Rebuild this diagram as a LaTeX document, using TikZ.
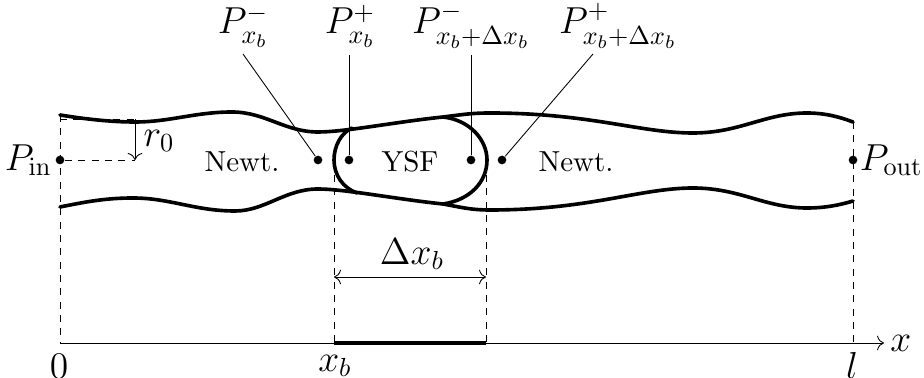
\documentclass[tikz,border=0pt]{standalone}
\usepackage{amsmath}
\usetikzlibrary{arrows.meta,positioning}
\tikzset{
  wall/.style={
    line width=1.25pt, line cap=round
  },
  guide/.style={
    dash pattern=on 2.4pt off 2.2pt, line width=0.3pt
  },
  leader/.style={
    line width=0.3pt
  },
  dimarrow/.style={
    {To[length=2.4pt]}-{To[length=2.4pt]}, line width=0.3pt
  },
  probe/.style={
    circle, fill=black, inner sep=0pt, minimum size=3pt
  },
  mathlabel/.style={
    font=\Large, scale=0.9, inner sep=0pt
  },
  zonelabel/.style={
    font=\normalsize, inner sep=0pt
  },
}
\begin{document}
\begin{tikzpicture}[x=0.345pt, y=-0.345pt]
  \useasboundingbox (0,0) rectangle (924,378);

  % Corners
  \coordinate (tl) at (60,115);
  \coordinate (tr) at (853,122);
  \coordinate (o) at (60,343);
  \coordinate (xa) at (334,343);
  \coordinate (xc) at (486,343);
  \coordinate (xl) at (853,343);
  \coordinate (xe) at (884,343);
  \coordinate (ga) at (334,175);
  \coordinate (gc) at (486,175);

  % Probes
  \node[probe] (pin) at (60,160) {};
  \node[probe] (pam) at (318,160) {};
  \node[probe] (pap) at (349,160) {};
  \node[probe] (pcm) at (471,160) {};
  \node[probe] (pcp) at (502,160) {};
  \node[probe] (pout) at (853,160) {};

  % Walls
  \draw[wall] (tl) .. controls (85,119) and (110,122) .. (135,122)
    .. controls (170,122) and (195,112) .. (232,112)
    .. controls (265,112) and (285,132) .. (318,132)
    .. controls (345,132) and (395,122) .. (443,117)
    .. controls (460,115) and (470,113) .. (490,113)
    .. controls (590,113) and (640,133) .. (693,133)
    .. controls (740,133) and (765,113) .. (807,113)
    .. controls (825,113) and (840,117) .. (tr);
  \draw[wall] (60,207) .. controls (85,202) and (105,198) .. (133,198)
    .. controls (170,198) and (195,211) .. (235,211)
    .. controls (265,211) and (285,189) .. (318,189)
    .. controls (345,189) and (395,199) .. (443,204)
    .. controls (460,207) and (470,210) .. (490,210)
    .. controls (590,210) and (640,188) .. (693,188)
    .. controls (740,188) and (765,208) .. (807,208)
    .. controls (825,208) and (840,205) .. (853,201);
  \draw[wall] (352,128) .. controls (341,133) and (334,146) .. (334,160)
    .. controls (334,175) and (343,188) .. (357,193);
  \draw[wall] (443,117) .. controls (470,120) and (487,140) .. (487,160)
    .. controls (487,182) and (470,200) .. (443,204);

  % Guides
  \coordinate (rs) at (60,119);
  \coordinate (ra) at (135,119);
  \coordinate (rb) at (135,160);
  \draw[guide] (tl) -- (o);
  \draw[guide] (tr) -- (xl);
  \draw[guide] (ga) -- (xa);
  \draw[guide] (gc) -- (xc);
  \draw[guide] (rs) -- (ra);
  \draw[guide] (pin) -- (rb);

  % Radius
  \draw[-{To[length=2.4pt]}, leader] (ra) -- (rb);
  \node[mathlabel, anchor=west] (rz) at (143,141) {$r_0$};

  % Labels
  \node[mathlabel, left=1pt of pin] (lin) {$P_{\mathrm{in}}$};
  \node[mathlabel, right=0.5pt of pout] (lout) {$P_{\mathrm{out}}$};
  \node[mathlabel] (lam) at (243,26) {$P_{x_b}^-$};
  \node[mathlabel] (lap) at (350,26) {$P_{x_b}^+$};
  \node[mathlabel] (lcm) at (471,26) {$P_{x_b+\Delta x_b}^-$};
  \node[mathlabel] (lcp) at (618,26) {$P_{x_b+\Delta x_b}^+$};
  \node[zonelabel] (zna) at (242,162) {Newt.};
  \node[zonelabel] (zys) at (410,162) {YSF};
  \node[zonelabel] (znb) at (576,162) {Newt.};

  % Leaders
  \coordinate (tam) at (243,54);
  \coordinate (tap) at (349,55);
  \coordinate (tcm) at (471,55);
  \coordinate (tcp) at (593,54);
  \draw[leader] (pam) -- (tam);
  \draw[leader] (pap) -- (tap);
  \draw[leader] (pcm) -- (tcm);
  \draw[leader] (pcp) -- (tcp);

  % Axis
  \draw[-{To[length=2.4pt]}, leader] (o) -- (xe);
  \draw[wall, line cap=butt] (xa) -- (xc);
  \node[mathlabel, right=2pt of xe] (lx) {$x$};
  \node[mathlabel] (lo) at (59,366) {$0$};
  \node[mathlabel] (lb) at (335,366) {$x_b$};
  \node[mathlabel] (ll) at (852,365) {$l$};

  % Delta
  \coordinate (da) at (334,277);
  \coordinate (db) at (486,277);
  \draw[dimarrow] (da) -- (db);
  \node[mathlabel] (dl) at (412,254) {$\Delta x_b$};
\end{tikzpicture}
\end{document}
